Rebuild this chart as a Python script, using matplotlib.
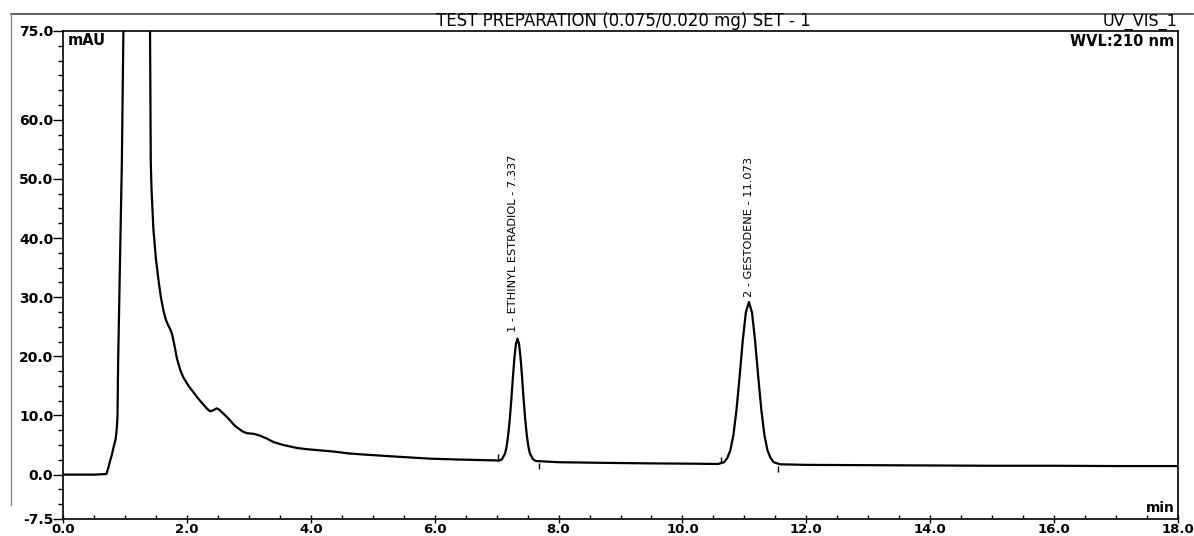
import matplotlib
matplotlib.use("Agg")
import matplotlib.pyplot as plt
from matplotlib.ticker import MultipleLocator, FixedLocator, FormatStrFormatter

# ---- data (time in min, signal in mAU) ----
time_min = [0.00, 0.50, 0.70, 0.73, 0.76, 0.79, 0.82, 0.85, 0.87, 0.88, 0.89, 0.92,
            0.95, 0.975, 1.00,
            1.38, 1.405, 1.417, 1.43, 1.46, 1.50, 1.54, 1.58, 1.62, 1.66, 1.70, 1.73,
            1.76, 1.80, 1.84, 1.89, 1.94, 2.02, 2.10, 2.18, 2.27, 2.33, 2.375, 2.43,
            2.48, 2.52, 2.56, 2.66, 2.78, 2.90, 2.97, 3.08, 3.18, 3.29, 3.40, 3.56,
            3.78, 3.94, 4.15, 4.37, 4.60, 4.85, 5.15, 5.45, 5.93, 6.40, 7.00,
            7.037, 7.087, 7.137, 7.162, 7.187, 7.212, 7.237, 7.262, 7.287, 7.312,
            7.337, 7.362, 7.387, 7.412, 7.437, 7.462, 7.487, 7.512, 7.537, 7.587,
            7.637, 8.00, 8.68, 9.50, 10.20, 10.573,
            10.673, 10.723, 10.773, 10.823, 10.873, 10.923, 10.973, 11.023, 11.073,
            11.123, 11.173, 11.223, 11.273, 11.323, 11.373, 11.423, 11.473, 11.573,
            12.00, 13.00, 14.00, 15.00, 16.00, 17.00, 18.00]
signal_mau = [0.0, 0.0, 0.1, 1.1, 2.3, 3.4, 4.8, 6.0, 8.0, 10.0, 19.0, 36.0,
              52.7, 75.0, 110.0,
              110.0, 75.0, 52.7, 48.0, 41.4, 36.5, 33.0, 30.0, 27.8, 26.2, 25.2, 24.6,
              23.8, 21.8, 19.6, 17.8, 16.5, 15.1, 14.0, 12.9, 11.8, 11.1, 10.7, 10.9,
              11.2, 11.0, 10.6, 9.6, 8.2, 7.3, 7.0, 6.9, 6.6, 6.1, 5.5, 5.0,
              4.5, 4.3, 4.1, 3.9, 3.6, 3.4, 3.2, 3.0, 2.7, 2.55, 2.4,
              2.35, 2.6, 3.6, 4.8, 6.7, 9.3, 12.6, 16.3, 19.7, 22.1,
              23.0, 22.1, 19.7, 16.3, 12.6, 9.3, 6.7, 4.8, 3.6, 2.6,
              2.3, 2.1, 2.0, 1.9, 1.85, 1.8,
              2.1, 2.8, 4.1, 6.7, 11.0, 16.6, 22.6, 27.4, 29.2,
              27.4, 22.6, 16.6, 11.0, 6.7, 4.1, 2.8, 2.1, 1.75,
              1.65, 1.6, 1.55, 1.5, 1.5, 1.45, 1.45]

peak_names = ["1 - ETHINYL ESTRADIOL - 7.337", "2 - GESTODENE - 11.073"]
peak_rt = [7.337, 11.073]
peak_height = [23.0, 29.2]
peak_start = [7.03, 10.63]
peak_start_val = [2.35, 1.85]
peak_end = [7.68, 11.55]
peak_end_val = [2.25, 1.75]

y_major = [-7.5, 0.0, 10.0, 20.0, 30.0, 40.0, 50.0, 60.0, 75.0]
x_major = [0.0, 2.0, 4.0, 6.0, 8.0, 10.0, 12.0, 14.0, 16.0, 18.0]

title_text = "TEST PREPARATION (0.075/0.020 mg) SET - 1"
channel_text = "UV_VIS_1"
wvl_text = "WVL:210 nm"

# ---- figure ----
W, H = 1194, 536
fig = plt.figure(figsize=(W / 100, H / 100), dpi=100)
fig.patch.set_facecolor("white")
ax = fig.add_axes([63 / W, 1 - 519 / H, (1178 - 63) / W, (519 - 31) / H])

ax.plot(time_min, signal_mau, color="black", lw=1.6, solid_joinstyle="round")

# peak delimiter marks
ax.plot(peak_start, [v + 0.7 for v in peak_start_val], ls="none", marker="|",
        ms=5, mew=1.0, color="black")
ax.plot(peak_end, [v - 0.8 for v in peak_end_val], ls="none", marker="|",
        ms=5, mew=1.0, color="black")

# peak labels
label_offsets = [(-4, 7), (0, 5)]
for name, rt, h, off in zip(peak_names, peak_rt, peak_height, label_offsets):
    ax.annotate(name, xy=(rt, h), xytext=off, textcoords="offset pixels",
                rotation=90, ha="center", va="bottom", fontsize=8.2,
                family="DejaVu Sans")

ax.set_xlim(0, 18)
ax.set_ylim(-7.5, 75)

ax.yaxis.set_major_locator(FixedLocator(y_major))
ax.yaxis.set_minor_locator(MultipleLocator(2.5))
ax.yaxis.set_major_formatter(FormatStrFormatter("%.1f"))
ax.xaxis.set_major_locator(FixedLocator(x_major))
ax.xaxis.set_minor_locator(MultipleLocator(0.5))
ax.xaxis.set_major_formatter(FormatStrFormatter("%.1f"))

ax.tick_params(axis="y", which="major", direction="out", length=7, width=1.0,
               pad=0, labelsize=10)
ax.tick_params(axis="y", which="minor", direction="out", length=3.5, width=1.0)
ax.tick_params(axis="x", which="major", direction="inout", length=6, width=1.0,
               pad=0, labelsize=9.5)
ax.tick_params(axis="x", which="minor", direction="in", length=3, width=1.0)
for lab in ax.get_xticklabels() + ax.get_yticklabels():
    lab.set_fontweight("bold")

for s in ax.spines.values():
    s.set_linewidth(1.2)

ax.text(0.004, 0.995, "mAU", transform=ax.transAxes, ha="left", va="top",
        fontsize=10.5, fontweight="bold")
ax.text(0.997, 0.993, wvl_text, transform=ax.transAxes, ha="right", va="top",
        fontsize=10.5, fontweight="bold")
ax.text(0.997, 0.008, "min", transform=ax.transAxes, ha="right", va="bottom",
        fontsize=10, fontweight="bold")

fig.text(623 / W, 1 - 21 / H, title_text, ha="center", va="center", fontsize=12)
fig.text(1178 / W, 1 - 26 / H, channel_text, ha="right", va="baseline",
         fontsize=11.5)

# outer frame lines
fig.add_artist(plt.Line2D([11 / W, 1193 / W], [1 - 14 / H, 1 - 14 / H],
                          color="#444444", lw=1.2, transform=fig.transFigure))
fig.add_artist(plt.Line2D([11 / W, 11 / W], [1 - 14 / H, 1 - 505 / H],
                          color="#888888", lw=1.0, transform=fig.transFigure))

fig.savefig("out.png", dpi=100)
